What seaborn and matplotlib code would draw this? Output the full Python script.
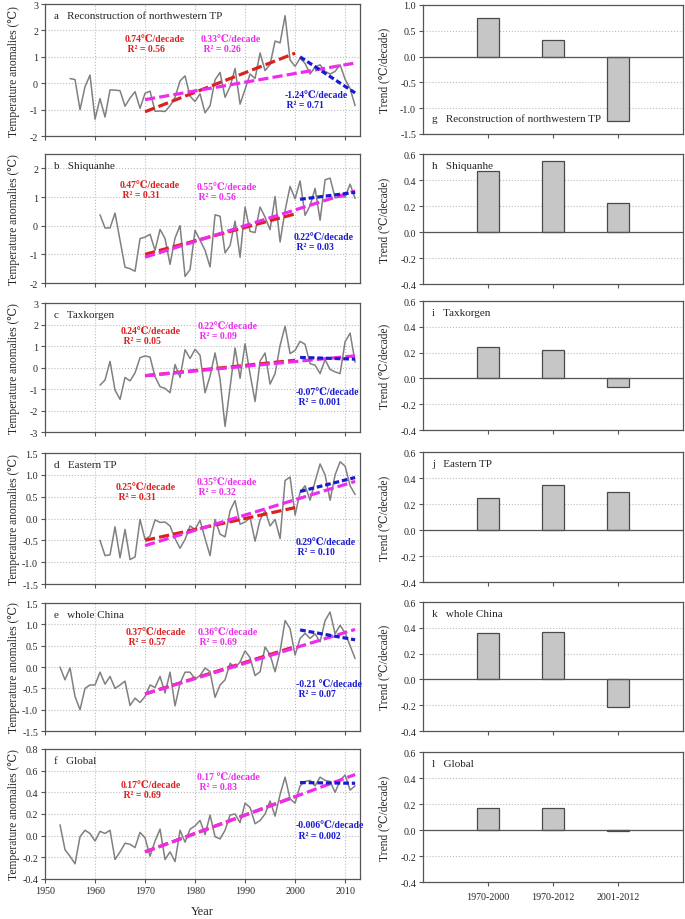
import numpy as np
import matplotlib
matplotlib.use("Agg")
import matplotlib.pyplot as plt
import matplotlib.ticker as mticker
import seaborn as sns

sns.set_style("ticks")
plt.rcParams['font.family'] = ['Liberation Serif', 'DejaVu Serif']

# ---- data ----
left_titles = ["a   Reconstruction of northwestern TP", "b   Shiquanhe", "c   Taxkorgen",
               "d   Eastern TP", "e   whole China", "f   Global"]
right_titles = ["g   Reconstruction of northwestern TP", "h   Shiquanhe", "i   Taxkorgen",
                "j   Eastern TP", "k   whole China", "l   Global"]
start_years = [1955, 1961, 1961, 1961, 1953, 1953]

recon_tp = [0.18, 0.14, -1.0, -0.13, 0.31, -1.36, -0.58, -1.28, -0.25, -0.26,
            -0.28, -0.87, -0.56, -0.32, -0.95, -0.38, -0.30, -1.06, -1.05, -1.07,
            -0.85, -0.53, 0.09, 0.28, -0.49, -0.69, -0.40, -1.12, -0.85, 0.13,
            0.41, -0.53, -0.13, 0.56, -0.79, -0.23, 0.35, 0.18, 1.15, 0.48,
            0.71, 1.60, 1.53, 2.56, 0.88, 0.64, 0.95, 0.75, 0.35, 0.62,
            0.70, 0.45, 0.35, 0.45, 0.70, 0.15, -0.20, -0.85]
shiquanhe = [0.38, -0.08, -0.08, 0.44, -0.51, -1.45, -1.50, -1.59, -0.45, -0.40,
             -0.30, -0.86, -0.13, -0.45, -1.35, -0.43, 0.0, -1.77, -1.53, -0.16,
             -0.51, -0.86, -1.44, 0.38, 0.33, -0.95, -0.69, 0.16, -1.10, 0.65,
             -0.20, -0.24, 0.65, 0.30, -0.14, 1.02, -0.57, 0.53, 1.37, 0.94,
             1.56, 0.36, 0.70, 1.30, 0.19, 1.60, 1.66, 0.97, 1.0, 1.0,
             1.45, 0.95]
taxkorgen = [-0.82, -0.58, 0.29, -1.05, -1.48, -0.46, -0.62, -0.25, 0.46, 0.54,
             0.49, -0.43, -0.89, -0.97, -1.17, 0.14, -0.46, 0.83, 0.42, 0.85,
             0.57, -1.17, -0.40, 0.68, -0.54, -2.74, -0.92, 0.91, -0.50, 1.10,
             -0.30, -1.58, 0.30, 0.68, -0.77, -0.28, 1.03, 1.92, 0.65, 0.80,
             1.22, 1.08, 0.18, 0.11, -0.28, 0.37, -0.09, -0.20, -0.28, 1.20,
             1.60, 0.25]
eastern_tp = [-0.50, -0.85, -0.83, -0.19, -0.90, -0.25, -0.94, -0.88, -0.02, -0.48,
              -0.40, -0.03, -0.09, -0.08, -0.17, -0.46, -0.68, -0.48, -0.17, -0.25,
              -0.04, -0.46, -0.85, -0.02, -0.36, -0.42, 0.18, 0.41, -0.13, -0.08,
              0.02, -0.52, -0.03, 0.18, -0.17, -0.02, -0.46, 0.87, 0.95, 0.08,
              0.60, 0.75, 0.42, 0.85, 1.25, 1.0, 0.42, 1.0, 1.30, 1.20,
              0.75, 0.55]
whole_china = [0.0, -0.30, -0.02, -0.69, -1.0, -0.50, -0.42, -0.42, -0.12, -0.40,
               -0.22, -0.50, -0.42, -0.33, -0.90, -0.73, -0.83, -0.69, -0.42, -0.48,
               -0.22, -0.61, -0.12, -0.91, -0.38, -0.12, -0.12, -0.28, -0.20, -0.02,
               -0.11, -0.71, -0.42, -0.30, 0.09, -0.02, 0.12, 0.38, 0.22, -0.20,
               -0.11, 0.47, 0.29, -0.11, 0.37, 1.09, 0.90, 0.28, 0.67, 0.79,
               0.67, 0.78, 0.59, 1.09, 1.29, 0.78, 0.98, 0.80, 0.50, 0.20]
global_t = [0.10, -0.13, -0.19, -0.26, -0.01, 0.05, 0.02, -0.05, 0.04, 0.02,
            0.05, -0.22, -0.15, -0.07, -0.08, -0.11, 0.03, -0.02, -0.19, -0.05,
            0.06, -0.22, -0.15, -0.24, 0.05, -0.06, 0.06, 0.09, 0.14, 0.01,
            0.19, -0.01, -0.03, 0.05, 0.19, 0.20, 0.12, 0.30, 0.26, 0.11,
            0.14, 0.20, 0.32, 0.18, 0.38, 0.54, 0.34, 0.30, 0.46, 0.50,
            0.51, 0.46, 0.54, 0.51, 0.50, 0.40, 0.51, 0.56, 0.42, 0.46]
series = [recon_tp, shiquanhe, taxkorgen, eastern_tp, whole_china, global_t]

# trend lines: slope (per decade) and value at the first year of each period
periods = ["1970-2000", "1970-2012", "2001-2012"]
red_slope = [0.74, 0.47, 0.24, 0.25, 0.37, 0.17]
mag_slope = [0.33, 0.55, 0.22, 0.35, 0.36, 0.17]
blue_slope = [-1.24, 0.22, -0.07, 0.29, -0.21, -0.006]
red_start = [-1.08, -1.0, -0.38, -0.50, -0.63, -0.15]
mag_start = [-0.62, -1.10, -0.38, -0.62, -0.63, -0.15]
blue_start = [1.0, 0.92, 0.47, 0.62, 0.87, 0.49]
red_labels = ["0.74℃/decade", "0.47℃/decade", "0.24℃/decade", "0.25℃/decade", "0.37℃/decade", "0.17℃/decade"]
mag_labels = ["0.33℃/decade", "0.55℃/decade", "0.22℃/decade", "0.35℃/decade", "0.36℃/decade", "0.17 ℃/decade"]
blue_labels = ["-1.24℃/decade", "0.22℃/decade", "-0.07℃/decade", "0.29℃/decade", "-0.21 ℃/decade", "-0.006℃/decade"]
red_r2 = ["0.56", "0.31", "0.05", "0.31", "0.57", "0.69"]
mag_r2 = ["0.26", "0.56", "0.09", "0.32", "0.69", "0.83"]
blue_r2 = ["0.71", "0.03", "0.001", "0.10", "0.07", "0.002"]

# bar values = trends for the three periods
bar_values = [[0.74, 0.33, -1.24],
              [0.47, 0.55, 0.22],
              [0.24, 0.22, -0.07],
              [0.25, 0.35, 0.29],
              [0.36, 0.37, -0.21],
              [0.17, 0.17, -0.006]]

# ---- layout / style ----
left_ylims = [(-2, 3), (-2, 2.5), (-3, 3), (-1.5, 1.5), (-1.5, 1.5), (-0.4, 0.8)]
left_ystep = [1, 1, 1, 0.5, 0.5, 0.2]
left_fmt = ['%d', '%d', '%d', '%.1f', '%.1f', '%.1f']
right_ylims = [(-1.5, 1.0)] + [(-0.4, 0.6)] * 5
right_ystep = [0.5] + [0.2] * 5
left_pos = [(0.851, 0.1435), (0.6913, 0.1402), (0.5293, 0.1402),
            (0.3641, 0.1424), (0.2043, 0.1391), (0.0435, 0.1413)]
right_pos = [(0.8533, 0.1402), (0.6902, 0.1413), (0.5315, 0.1402),
             (0.3663, 0.1413), (0.2043, 0.1402), (0.0402, 0.1413)]
red_txt = [(0.254, 0.77), (0.238, 0.80), (0.241, 0.82), (0.225, 0.78), (0.257, 0.81), (0.241, 0.76)]
mag_txt = [(0.495, 0.77), (0.48, 0.78), (0.483, 0.86), (0.48, 0.82), (0.483, 0.81), (0.483, 0.82)]
blue_txt = [(0.76, 0.35), (0.79, 0.395), (0.797, 0.35), (0.794, 0.36), (0.797, 0.41), (0.797, 0.45)]

RED = '#dc2020'
MAG = '#ee2cee'
BLUE = '#1a1ad0'
SPINE = '#555555'

fig = plt.figure(figsize=(6.85, 9.2), dpi=100)

def style_axis(ax):
    for s in ax.spines.values():
        s.set_color(SPINE)
        s.set_linewidth(0.9)
    ax.tick_params(direction='out', length=3, width=0.8, color=SPINE,
                   labelsize=7.2, pad=2)

for i in range(6):
    # ---- left: time series ----
    b, h = left_pos[i]
    ax = fig.add_axes([0.0657, b, 0.46, h])
    yrs = np.arange(start_years[i], start_years[i] + len(series[i]))
    sns.lineplot(x=yrs, y=series[i], ax=ax, color='#808080', linewidth=1.1)

    ry = np.array([1970, 2000])
    my = np.array([1970, 2012])
    by = np.array([2001, 2012])
    ax.plot(ry, red_start[i] + red_slope[i] * (ry - ry[0]) / 10, color=RED,
            lw=2.3, dashes=[3.2, 1.3], zorder=3)
    ax.plot(my, mag_start[i] + mag_slope[i] * (my - my[0]) / 10, color=MAG,
            lw=2.3, dashes=[3.2, 1.3], zorder=3)
    ax.plot(by, blue_start[i] + blue_slope[i] * (by - by[0]) / 10, color=BLUE,
            lw=2.3, dashes=[1.8, 0.9], zorder=4)

    lo, hi = left_ylims[i]
    ax.set_xlim(1950, 2013)
    ax.set_ylim(lo, hi)
    ax.set_xticks(np.arange(1950, 2011, 10))
    ax.set_yticks(np.arange(lo, hi + 1e-9, left_ystep[i]))
    ax.yaxis.set_major_formatter(mticker.FormatStrFormatter(left_fmt[i]))
    ax.grid(True, color='#bdbdbd', linestyle=':', linewidth=0.8)
    style_axis(ax)
    ax.set_ylabel("Temperature anomalies (℃)", fontsize=8.3)
    ax.yaxis.set_label_coords(-0.078, 0.5)
    if i < 5:
        ax.tick_params(axis='x', labelbottom=False)
        ax.set_xlabel("")
    else:
        ax.set_xlabel("Year", fontsize=9, labelpad=7)

    ax.text(0.03, 0.91, left_titles[i], transform=ax.transAxes, fontsize=8,
            va='center', ha='left')
    for (tx, ty), lab, r2, col in [(red_txt[i], red_labels[i], red_r2[i], RED),
                                   (mag_txt[i], mag_labels[i], mag_r2[i], MAG),
                                   (blue_txt[i], blue_labels[i], blue_r2[i], BLUE)]:
        ax.text(tx, ty, lab + "\n R² = " + r2, transform=ax.transAxes,
                color=col, fontsize=7, fontweight='bold', va='top', ha='left',
                linespacing=1.15)

    # ---- right: trend bars ----
    b, h = right_pos[i]
    axr = fig.add_axes([0.6175, b, 0.3796, h])
    sns.barplot(x=periods, y=bar_values[i], ax=axr, color='#c6c6c6',
                saturation=1, width=0.35, edgecolor='#4a4a4a', linewidth=0.9,
                zorder=3)
    lo, hi = right_ylims[i]
    axr.set_xlim(-1, 3)
    axr.set_ylim(lo, hi)
    axr.set_yticks(np.arange(lo, hi + 1e-9, right_ystep[i]))
    axr.yaxis.set_major_formatter(mticker.FormatStrFormatter('%.1f'))
    axr.grid(True, axis='y', color='#bdbdbd', linestyle=':', linewidth=0.8)
    axr.axhline(0, color='#555555', lw=0.9, zorder=4)
    style_axis(axr)
    axr.set_ylabel("Trend (℃/decade)", fontsize=8.3)
    axr.yaxis.set_label_coords(-0.125, 0.5)
    if i < 5:
        axr.tick_params(axis='x', labelbottom=False)
    else:
        axr.tick_params(axis='x', pad=4)
    axr.set_xlabel("")
    if i == 0:
        axr.text(0.035, 0.12, right_titles[i], transform=axr.transAxes,
                 fontsize=8, va='center', ha='left')
    else:
        axr.text(0.035, 0.91, right_titles[i], transform=axr.transAxes,
                 fontsize=8, va='center', ha='left', zorder=5)

fig.savefig("out.png", dpi=100)
